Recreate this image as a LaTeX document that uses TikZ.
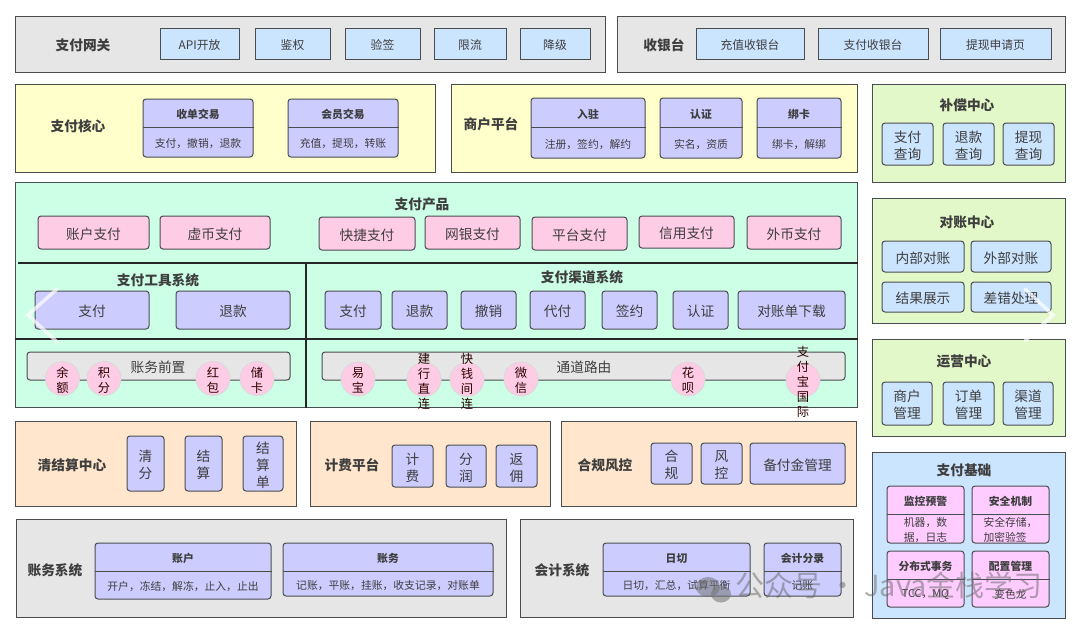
\documentclass[tikz,border=0pt]{standalone}
\usepackage{fontspec}
\setmainfont{Noto Sans CJK SC}
\definecolor{cgrey}{HTML}{E6E6E6}
\definecolor{cblue}{HTML}{CCE5FF}
\definecolor{cyellow}{HTML}{FFFFCC}
\definecolor{cviolet}{HTML}{CCCCFF}
\definecolor{cmint}{HTML}{CCFFE6}
\definecolor{cpink}{HTML}{FFCCE6}
\definecolor{clime}{HTML}{E3F8C8}
\definecolor{corange}{HTML}{FFE6CC}
\definecolor{cmagenta}{HTML}{FFCCFF}
\definecolor{edge}{HTML}{4A4D50}
\definecolor{ink}{HTML}{3E3E3E}
\tikzset{
  x=1pt,y=-1pt,
  panel/.style={draw=edge,line width=1pt,inner sep=0pt},
  title/.style={inner sep=0pt,text=ink,font=\fontsize{13.7}{16}\selectfont\bfseries},
  subtitle/.style={inner sep=0pt,text=ink,font=\fontsize{13.7}{16}\selectfont\bfseries},
  tile/.style={draw=edge,line width=1pt,rounded corners=3pt,inner sep=0pt,align=center,text=ink,font=\fontsize{13.7}{17}\selectfont},
  gate/.style={draw=edge,line width=1pt,fill=cblue,inner sep=0pt,align=center,text=ink,font=\fontsize{11.8}{14}\selectfont},
  chead/.style={inner sep=0pt,text=ink,font=\fontsize{10.8}{13}\selectfont\bfseries},
  cbody/.style={inner sep=0pt,align=left,text=ink,font=\fontsize{10.8}{15}\selectfont},
  gridline/.style={draw=black!85,line width=1.4pt},
  dot/.style={circle,draw=black!15,line width=.8pt,fill=cpink,minimum size=34pt,inner sep=0pt},
  dottext/.style={inner sep=0pt,align=center,text=black!45!red!30!black,font=\fontsize{12.3}{15}\selectfont},
  chev/.style={draw=white,opacity=.7,line width=3.5pt,line cap=round},
}
\newcommand\bx[7][]{%
  \pgfmathsetmacro\mycx{(#3+#5)/2}\pgfmathsetmacro\mycy{(#4+#6)/2}%
  \pgfmathsetmacro\myw{#5-#3}\pgfmathsetmacro\myh{#6-#4}%
  \pgfmathsetmacro\mytx{\mycy+1.6}%
  \node[#1,minimum width=\myw pt,minimum height=\myh pt] (#2) at (\mycx,\mycy) {};
  \node[#1,draw=none,fill=none,minimum width=0pt,minimum height=0pt] (#2t) at (\mycx,\mytx) {#7};}
% card: name x1 y1 x2 y2 ydiv head body fill
\newcommand\card[9]{%
  \bx[tile,fill=#9]{#1}{#2}{#3}{#4}{#5}{}%
  \coordinate (#1d) at (#2,#6);
  \draw[edge,line width=1pt] (#1d) -- (#1d -| #1.east);
  \pgfmathsetmacro\mycx{(#2+#4)/2}\pgfmathsetmacro\myya{(#3+#6)/2+1.6}\pgfmathsetmacro\myyb{(#6+#5)/2+1.6}%
  \node[chead] (#1h) at (\mycx,\myya) {#7};
  \node[cbody] (#1b) at (\mycx,\myyb) {#8};}
\newcommand\dotn[4]{%
  \node[dot] (#1) at (#2,#3) {};
  \node[dottext] (#1t) at ([yshift=-1.5pt]#1) {#4};}
\begin{document}
\begin{tikzpicture}
\useasboundingbox (0,0) rectangle (1080,630);
\fill[white] (0,0) rectangle (1080,630);

% ---- gateway
\bx[panel,fill=cgrey]{pgw}{15}{16}{605}{72}{}
\node[title] (tgw) at (83,45) {支付网关};
\bx[gate]{g1}{160}{28}{239}{59}{API开放}
\bx[gate]{g2}{255}{28}{330}{59}{鉴权}
\bx[gate]{g3}{345}{28}{420}{59}{验签}
\bx[gate]{g4}{434}{28}{506}{59}{限流}
\bx[gate]{g5}{520}{28}{590}{59}{降级}
% ---- cashier
\bx[panel,fill=cgrey]{pcs}{617}{16}{1065}{72}{}
\node[title] (tcs) at (664,45) {收银台};
\bx[gate]{c1}{696}{28}{804}{59}{充值收银台}
\bx[gate]{c2}{818}{28}{928}{59}{支付收银台}
\bx[gate]{c3}{940}{28}{1051}{59}{提现申请页}

% ---- core
\bx[panel,fill=cyellow]{pcore}{15}{84}{435}{172}{}
\node[title] (tcore) at (78,126) {支付核心};
\card{k1}{143}{99}{253}{157}{127}{收单交易}{支付，撤销，退款}{cviolet}
\card{k2}{288}{99}{398}{157}{127}{会员交易}{充值，提现，转账}{cviolet}
% ---- merchant
\bx[panel,fill=cyellow]{pmer}{451}{84}{857}{172}{}
\node[title] (tmer) at (491,124) {商户平台};
\card{m1}{531}{98}{645}{158}{127}{入驻}{注册，签约，解约}{cviolet}
\card{m2}{660}{98}{742}{158}{127}{认证}{实名，资质}{cviolet}
\card{m3}{757}{98}{841}{158}{127}{绑卡}{绑卡，解绑}{cviolet}

% ---- compensation
\bx[panel,fill=clime]{pcomp}{872}{84}{1065}{182}{}
\node[title] (tcomp) at (967,105) {补偿中心};
\bx[tile,fill=cblue]{b1}{882}{123}{933}{165}{支付\\查询}
\bx[tile,fill=cblue]{b2}{943}{123}{994}{165}{退款\\查询}
\bx[tile,fill=cblue]{b3}{1003}{123}{1054}{165}{提现\\查询}
% ---- reconciliation
\bx[panel,fill=clime]{prec}{872}{198}{1065}{323}{}
\node[title] (trec) at (967,222) {对账中心};
\bx[tile,fill=cblue]{r1}{882}{241}{964}{272}{内部对账}
\bx[tile,fill=cblue]{r2}{971}{241}{1051}{272}{外部对账}
\bx[tile,fill=cblue]{r3}{882}{282}{964}{312}{结果展示}
\bx[tile,fill=cblue]{r4}{971}{282}{1051}{312}{差错处理}
% ---- operations
\bx[panel,fill=clime]{pop}{872}{339}{1065}{436}{}
\node[title] (top) at (964,361) {运营中心};
\bx[tile,fill=cblue]{o1}{882}{382}{932}{425}{商户\\管理}
\bx[tile,fill=cblue]{o2}{943}{382}{994}{425}{订单\\管理}
\bx[tile,fill=cblue]{o3}{1003}{382}{1053}{425}{渠道\\管理}
% ---- foundation
\bx[panel,fill=cblue]{pfd}{872}{452}{1065}{618}{}
\node[title] (tfd) at (964,470) {支付基础};
\card{f1}{887}{486}{964}{543}{514}{监控预警}{机器，数\\据，日志}{cmagenta}
\card{f2}{972}{486}{1049}{543}{514}{安全机制}{安全存储，\\加密验签}{cmagenta}
\card{f3}{887}{551}{964}{607}{579}{分布式事务}{TCC，MQ}{cmagenta}
\card{f4}{972}{551}{1049}{607}{579}{配置管理}{变色龙}{cmagenta}

% ---- product
\bx[panel,fill=cmint]{pprod}{15}{182}{857}{407}{}
\node[title] (tprod) at (422,204) {支付产品};
\coordinate (gl1) at (18,263);
\coordinate (gl2) at (15,339);
\coordinate (gv) at (306,263);
\draw[gridline] (gl1) -- (gl1 -| pprod.east);
\draw[gridline] (gl2) -- (gl2 -| pprod.east);
\draw[gridline] (gv) -- (gv |- pprod.south);
\bx[tile,fill=cpink]{s1}{38}{216}{149}{249}{账户支付}
\bx[tile,fill=cpink]{s2}{160}{216}{270}{249}{虚币支付}
\bx[tile,fill=cpink]{s3}{319}{217}{415}{250}{快捷支付}
\bx[tile,fill=cpink]{s4}{425}{216}{520}{249}{网银支付}
\bx[tile,fill=cpink]{s5}{532}{217}{627}{250}{平台支付}
\bx[tile,fill=cpink]{s6}{639}{216}{734}{248}{信用支付}
\bx[tile,fill=cpink]{s7}{747}{216}{841}{249}{外币支付}

\node[subtitle] (ttool) at (158,280) {支付工具系统};
\bx[tile,fill=cviolet]{t1}{35}{291}{149}{329}{支付}
\bx[tile,fill=cviolet]{t2}{176}{291}{290}{329}{退款}
\node[subtitle] (tchan) at (582,277) {支付渠道系统};
\bx[tile,fill=cviolet]{h1}{325}{291}{381}{329}{支付}
\bx[tile,fill=cviolet]{h2}{392}{291}{447}{329}{退款}
\bx[tile,fill=cviolet]{h3}{461}{291}{516}{329}{撤销}
\bx[tile,fill=cviolet]{h4}{530}{291}{585}{329}{代付}
\bx[tile,fill=cviolet]{h5}{602}{291}{657}{329}{签约}
\bx[tile,fill=cviolet]{h6}{673}{291}{728}{329}{认证}
\bx[tile,fill=cviolet]{h7}{738}{291}{845}{329}{对账单下载}

\bx[tile,fill=cgrey]{bar1}{27}{352}{290}{380}{}
\node[inner sep=0pt,text=ink,font=\fontsize{13.7}{17}\selectfont] (tbar1) at (158,367) {账务前置};
\bx[tile,fill=cgrey]{bar2}{322}{352}{845}{380}{}
\node[inner sep=0pt,text=ink,font=\fontsize{13.7}{17}\selectfont] (tbar2) at (584,367) {通道路由};
\dotn{d1}{62.5}{378.5}{余\\额}
\dotn{d2}{104}{378.5}{积\\分}
\dotn{d3}{213}{378.5}{红\\包}
\dotn{d4}{257}{378.5}{储\\卡}
\dotn{e1}{358}{379}{易\\宝}
\dotn{e2}{424}{379.5}{建\\行\\直\\连}
\dotn{e3}{467}{379.5}{快\\钱\\间\\连}
\dotn{e4}{521}{379}{微\\信}
\dotn{e5}{688}{379}{花\\呗}
\dotn{e6}{803}{380}{支\\付\\宝\\国\\际}

% ---- settlement
\bx[panel,fill=corange]{pset}{15}{421}{296}{506}{}
\node[title] (tset) at (72,465) {清结算中心};
\bx[tile,fill=cviolet]{q1}{127}{436}{164}{491}{清\\分}
\bx[tile,fill=cviolet]{q2}{185}{436}{222}{491}{结\\算}
\bx[tile,fill=cviolet]{q3}{243}{436}{283}{491}{结\\算\\单}
% ---- fee
\bx[panel,fill=corange]{pfee}{310}{421}{550}{506}{}
\node[title] (tfee) at (352,465) {计费平台};
\bx[tile,fill=cviolet]{v1}{392}{445}{433}{487}{计\\费}
\bx[tile,fill=cviolet]{v2}{446}{445}{486}{487}{分\\润}
\bx[tile,fill=cviolet]{v3}{496}{445}{537}{487}{返\\佣}
% ---- compliance
\bx[panel,fill=corange]{pcom}{561}{421}{856}{506}{}
\node[title] (tcom) at (605,465) {合规风控};
\bx[tile,fill=cviolet]{w1}{651}{443}{692}{484}{合\\规}
\bx[tile,fill=cviolet]{w2}{701}{443}{742}{484}{风\\控}
\bx[tile,fill=cviolet]{w3}{750}{443}{845}{484}{备付金管理}

% ---- accounts
\bx[panel,fill=cgrey]{pacc}{16}{519}{506}{617}{}
\node[title] (tacc) at (55,570) {账务系统};
\card{a1}{95}{543}{271}{599}{571}{账户}{开户，冻结，解冻，止入，止出}{cviolet}
\card{a2}{283}{543}{493}{596}{571}{账务}{记账，平账，挂账，收支记录，对账单}{cviolet}
% ---- accounting
\bx[panel,fill=cgrey]{pact}{520}{519}{853}{617}{}
\node[title] (tact) at (562,570) {会计系统};
\card{u1}{603}{543}{750}{596}{571}{日切}{日切，汇总，试算平衡}{cviolet}
\card{u2}{764}{543}{841}{596}{571}{会计分录}{记账}{cviolet}

% ---- carousel chevrons
\draw[chev] (57,289) -- (28,315) -- (57,342);
\draw[chev] (1025,289) -- (1053,315) -- (1025,341);

% ---- watermark
\fill[black!55,opacity=.55] (708,587) ellipse [x radius=12,y radius=10];
\fill[black!55,opacity=.55] (721,594) ellipse [x radius=10,y radius=8.5];
\node[anchor=west,inner sep=0pt,text=black!60,opacity=.5,font=\fontsize{29}{32}\selectfont] (wm) at (735,585) {公众号 · Java金栈学习};
\end{tikzpicture}
\end{document}
